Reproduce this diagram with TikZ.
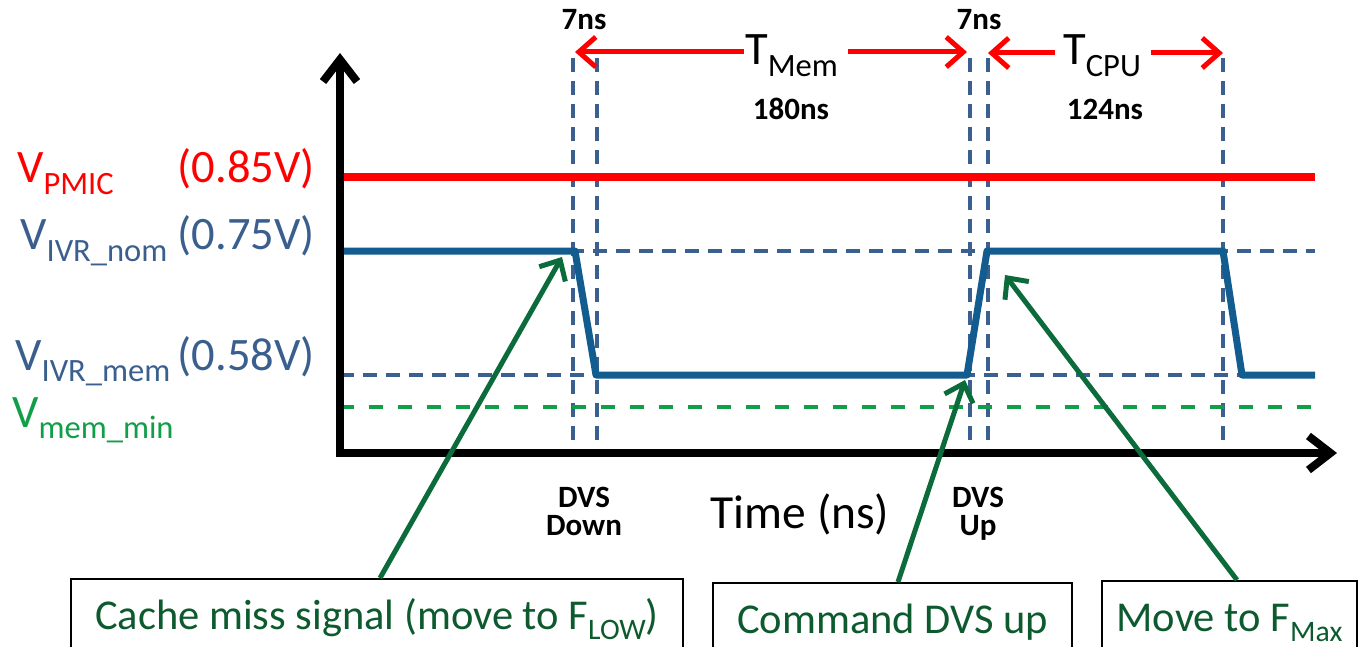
\documentclass[tikz,border=0pt]{standalone}
\usepackage{fontspec}
\setmainfont{Carlito}
\usetikzlibrary{arrows.meta}

\definecolor{pmicred}{HTML}{FF0000}
\definecolor{ivrblue}{HTML}{3A5F8E}
\definecolor{waveblue}{HTML}{125C8F}
\definecolor{dashblue}{HTML}{3B5F8F}
\definecolor{mingreen}{HTML}{119E48}
\definecolor{ptrgreen}{HTML}{0B6B3A}
\definecolor{notegreen}{HTML}{0D5A2E}

\newcommand{\lowsub}[1]{\raisebox{-0.25em}{\scalebox{0.7}{#1}}}

\tikzset{
  lbl/.style={inner sep=0pt, font=\fontsize{46.5}{50}\selectfont},
  boldlbl/.style={inner sep=0pt, align=center, font=\fontsize{31}{28}\selectfont\bfseries},
  note/.style={draw=black, line width=2pt, text=notegreen, inner sep=0pt,
    text height=50pt, text depth=20pt, anchor=north, font=\fontsize{42.5}{48}\selectfont},
  pointer/.style={draw=ptrgreen, line width=5pt, -{Straight Barb[length=16pt,width=30pt]}},
  span/.style={draw=pmicred, line width=5pt, -{Straight Barb[length=17pt,width=30pt]}},
  guide/.style={draw=dashblue, line width=3.5pt, dash pattern=on 14pt off 9pt}
}

\begin{document}
\begin{tikzpicture}[x=1pt, y=-1pt]
  \useasboundingbox (0,0) rectangle (1360,647);
  \clip (0,0) rectangle (1360,647);

  % guides
  \foreach \t in {573,597,970,988,1223}
    \draw[guide] (\t,58) -- (\t,453);
  \draw[guide] (340,251) -- (1315,251);
  \draw[guide] (340,375) -- (1315,375);
  \draw[draw=mingreen, line width=3.5pt, dash pattern=on 14pt off 15pt] (340,407) -- (1315,407);

  % supply and waveform
  \draw[pmicred, line width=8pt] (340,177) -- (1315,177);
  \draw[waveblue, line width=7pt, line join=round]
    (340,251) -- (575,251) -- (596,375) -- (967,375) -- (987,251)
    -- (1223,251) -- (1242,375) -- (1315,375);

  % axes
  \draw[line width=8pt, line join=miter,
    {Straight Barb[length=22pt,width=34pt]}-{Straight Barb[length=22pt,width=34pt]}]
    (340,53) -- (340,453) -- (1337,453);

  % voltage labels
  \node[lbl, text=pmicred, anchor=base west] (vpmic) at (17,183) {V\lowsub{PMIC}};
  \node[lbl, text=pmicred, anchor=base east] (vpmicval) at (315,183) {(0.85V)};
  \node[lbl, text=ivrblue, anchor=base west] (vnom) at (20,250) {V\lowsub{IVR\_nom}};
  \node[lbl, text=ivrblue, anchor=base east] (vnomval) at (315,250) {(0.75V)};
  \node[lbl, text=ivrblue, anchor=base west] (vmem) at (15,370) {V\lowsub{IVR\_mem}};
  \node[lbl, text=ivrblue, anchor=base east] (vmemval) at (315,370) {(0.58V)};
  \node[lbl, text=mingreen, anchor=base west] (vmin) at (12,427) {V\lowsub{mem\_min}};

  % timing labels
  \node[boldlbl, anchor=base] (downtime) at (584,30) {7ns};
  \node[boldlbl, anchor=base] (uptime) at (979,30) {7ns};
  \node[lbl, anchor=base west, inner sep=0pt] (tmem) at (745,65) {T\lowsub{Mem}};
  \node[lbl, anchor=base west, inner sep=0pt] (tcpu) at (1063,65) {T\lowsub{CPU}};
  \node[boldlbl, anchor=base] (memval) at (791,120) {180ns};
  \node[boldlbl, anchor=base] (cpuval) at (1105,120) {124ns};
  \coordinate (memL) at (575,52);
  \coordinate (memR) at (967,52);
  \coordinate (cpuL) at (988,53);
  \coordinate (cpuR) at (1223,53);
  \draw[span] ([xshift=-1pt]tmem.west |- memL) -- (memL);
  \draw[span] ([xshift=10pt]tmem.east |- memR) -- (memR);
  \draw[span] ([xshift=-8pt]tcpu.west |- cpuL) -- (cpuL);
  \draw[span] ([xshift=10pt]tcpu.east |- cpuR) -- (cpuR);

  \node[boldlbl, anchor=base] (dvsdown) at (584,535) {DVS\\Down};
  \node[boldlbl, anchor=base] (dvsup) at (978,535) {DVS\\Up};
  \node[inner sep=0pt, anchor=base, font=\fontsize{47.5}{50}\selectfont] (timeaxis) at (800,528) {Time (ns)};

  % events
  \node[note, minimum width=612pt] (miss) at (377,578) {Cache miss signal (move to F\lowsub{LOW})};
  \node[note, minimum width=359pt] (cmd) at (892.5,582) {Command DVS up};
  \node[note, minimum width=255pt] (fmax) at (1229.5,580) {Move to F\lowsub{Max}};
  \coordinate (misstip) at (562,257);
  \coordinate (cmdtip) at (965,380);
  \coordinate (fmaxtip) at (1005,275);
  \draw[pointer] ([xshift=3pt]miss.north) -- (misstip);
  \draw[pointer] ([xshift=5.5pt]cmd.north) -- (cmdtip);
  \draw[pointer] ([xshift=7.5pt]fmax.north) -- (fmaxtip);
\end{tikzpicture}
\end{document}
